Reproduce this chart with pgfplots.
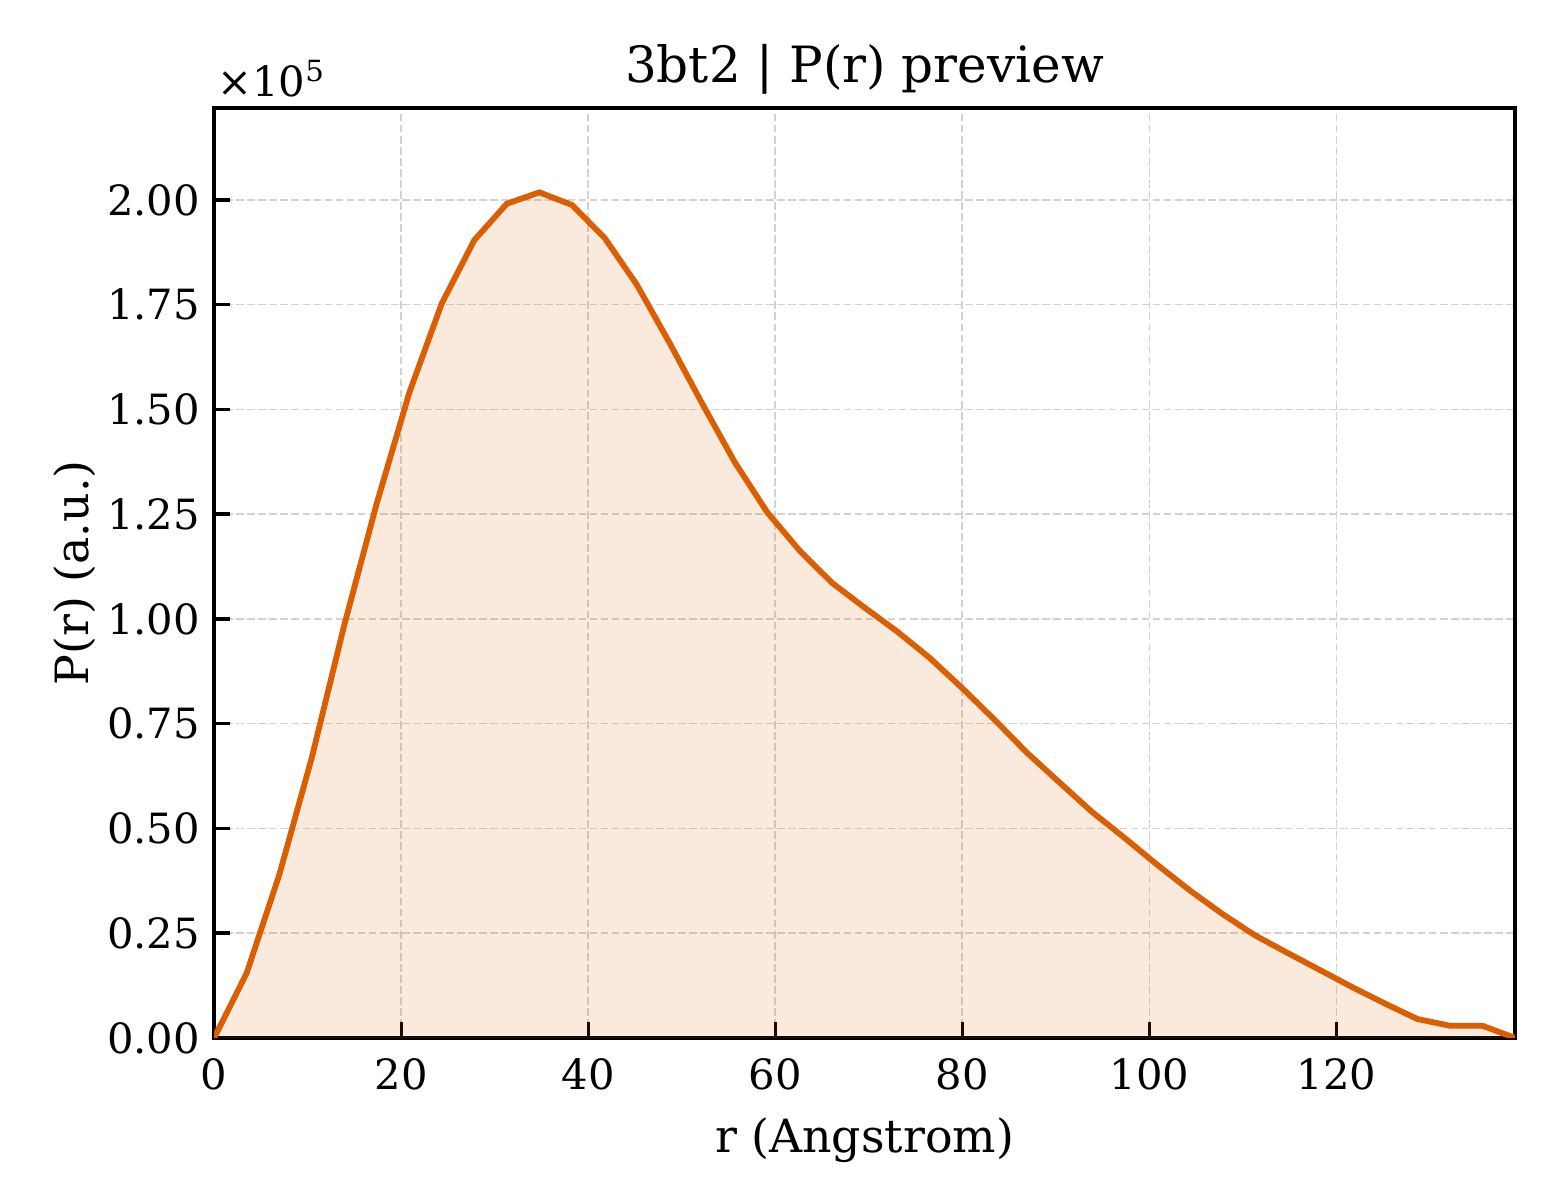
\documentclass[border=0pt]{standalone}
\usepackage{fontspec}
\setmainfont{DejaVu Serif}
\usepackage{pgfplots}
\usepackage{pgfplotstable}
\pgfplotsset{compat=1.18}
\definecolor{prline}{HTML}{D95F02}

% P(r) read off the preview, r in Angstrom
\pgfplotstableread{
r P
0.00 0
3.48 15500
6.96 38900
10.43 66800
13.91 98500
17.39 127600
20.87 154000
24.34 175300
27.82 190400
31.30 199100
34.78 201800
38.25 198800
41.73 191000
45.21 179700
48.69 165900
52.16 151500
55.64 137500
59.12 125500
62.60 116300
66.07 108600
69.55 102700
73.03 97000
76.51 90700
79.98 83500
83.46 75900
86.94 68000
90.42 60900
93.89 53900
97.37 47700
100.85 41300
104.33 35200
107.80 29600
111.28 24500
114.76 20300
118.24 16200
121.71 12100
125.19 8200
128.67 4500
132.15 2900
135.62 2900
139.10 0
}\prdata

\begin{document}
\begin{tikzpicture}
\path[use as bounding box] (-51.4pt,-38.9pt) rectangle (323.0pt,249.1pt);
\begin{axis}[
  at={(0,0)}, anchor=south west,
  scale only axis,
  width=312.2pt, height=223.2pt,
  xmin=0, xmax=139.1,
  ymin=0, ymax=221960,
  xtick={0,20,...,120},
  ytick={0,25000,...,200000},
  scaled y ticks=base 10:-5,
  ytick scale label code/.code={×10\textsuperscript{5}},
  every y tick scale label/.style={at={(axis description cs:0.0122,1.0121)}, anchor=base west, inner sep=0pt, font=\fontsize{10}{12}\selectfont},
  /pgf/number format/assume math mode=true,
  tick align=inside,
  xtick pos=bottom, ytick pos=left,
  major tick length=3.8pt,
  tick style={black, line width=0.8pt},
  axis line style={line width=0.9pt},
  ticklabel style={font=\fontsize{10}{12}\selectfont, inner sep=0pt},
  xticklabel style={anchor=north, yshift=-4.8pt},
  yticklabel style={anchor=east, xshift=-3.2pt,
    /pgf/number format/fixed, /pgf/number format/fixed zerofill,
    /pgf/number format/precision=2},
  grid=major,
  major grid style={gray!35, line width=0.4pt, dash pattern=on 1.85pt off 0.8pt},
  title={3bt2 | P(r) preview},
  every axis title shift=0pt,
  title style={at={(axis description cs:0.5,1.0269)}, anchor=base, yshift=0pt, inner sep=0pt, font=\fontsize{12}{14}\selectfont},
  xlabel={r (Angstrom)},
  ylabel={P(r) (a.u.)},
  label style={font=\fontsize{11}{13}\selectfont, inner sep=0pt},
  xlabel style={at={(axis description cs:0.5,-0.1228)}, anchor=base},
  ylabel style={at={(axis description cs:-0.0965,0.5)}, anchor=base},
]
\addplot[draw=none, fill=prline, fill opacity=0.13] table[x=r, y=P] {\prdata} \closedcycle;
\addplot[prline, line width=1.4pt] table[x=r, y=P] {\prdata};
\end{axis}
\end{tikzpicture}
\end{document}
